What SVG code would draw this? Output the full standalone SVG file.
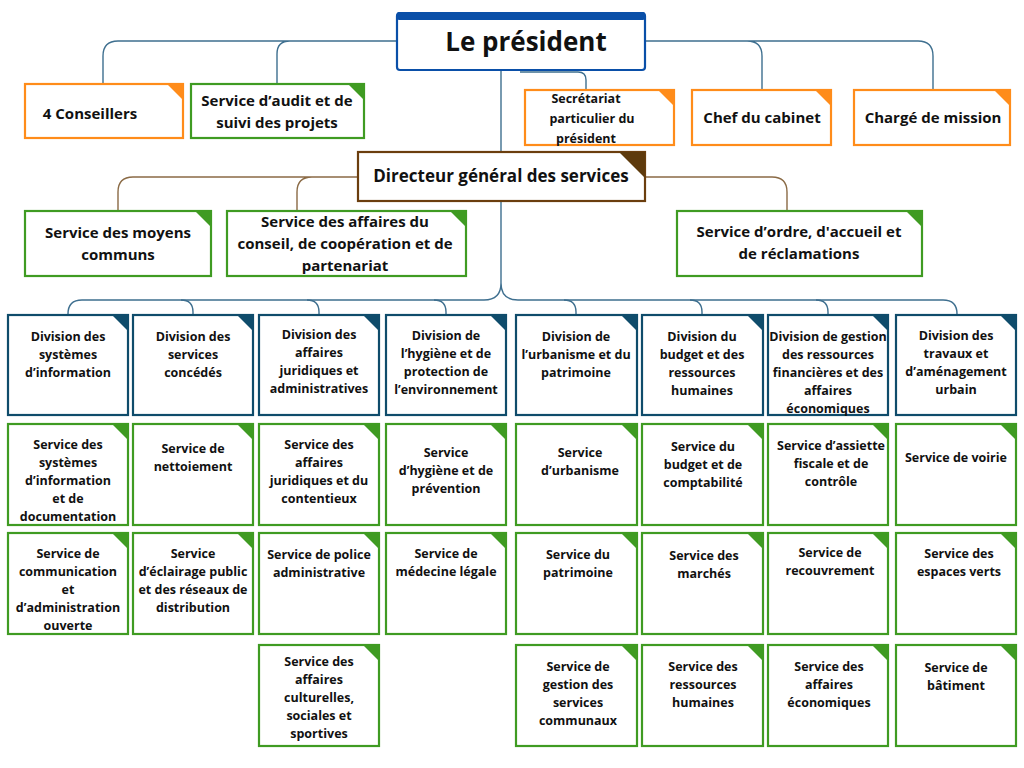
<svg xmlns="http://www.w3.org/2000/svg" width="1024" height="768" viewBox="0 0 1024 768">
<style>
text{font-family:"Open Sans","Liberation Sans",sans-serif;font-weight:bold;fill:#111;text-anchor:middle}
.t{font-size:12.5px}
.m{font-size:15px}
.c{fill:none;stroke:#3e6f8f;stroke-width:1.4}
.b{fill:none;stroke:#8a6a45;stroke-width:1.4}
.o{fill:#fff;stroke:#ff8c1a;stroke-width:2.2}
.g{fill:#fff;stroke:#3f9b22;stroke-width:2.2}
.d{fill:#fff;stroke:#0f4c6b;stroke-width:2.2}
.fo{fill:#ff8c1a}.fg{fill:#3f9b22}.fd{fill:#0f4c6b}.fb{fill:#5e3a0c}
</style>
<rect width="1024" height="768" fill="#fff"/>
<g id="connectors">
<path class="c" d="M397,41 H118 Q103,41 103,56 V84 M290,41 Q277,41 277,54 V84"/>
<path class="c" d="M645,41 H918 Q933,41 933,56 V90 M747,41 Q762,41 762,56 V90"/>
<path class="c" d="M520,72 H578 Q586,72 586,80 V90"/>
<path class="c" d="M501,70 V152"/>
<path class="c" d="M501,201 V283 Q501,300 484,300 H82 Q68,300 68,314 M501,283 Q501,300 518,300 H943 Q957,300 957,314"/>
<path class="c" d="M181,300 Q193,300 193,312 V315 M307,300 Q319,300 319,312 V315 M434,300 Q446,300 446,312 V315 M564,300 Q576,300 576,312 V315 M690,300 Q702,300 702,312 V315 M816,300 Q828,300 828,312 V315"/>
<path class="b" d="M358,177 H133 Q118,177 118,192 V211 M312,177 Q297,177 297,192 V211 M645,177 H772 Q787,177 787,192 V211"/>
</g>
<g id="president">
<rect x="397" y="13" width="248" height="57" rx="3" fill="#fff" stroke="#0a4fa8" stroke-width="2.2"/>
<rect x="397" y="12" width="248" height="8" rx="2" fill="#0a4fa8"/>
<text x="526" y="51" style="font-size:26px">Le président</text>
</g>
<g id="conseillers"><rect class="o" x="25" y="84" width="158" height="54"/><polygon class="fo" points="167,84 183,84 183,100"/><text class="m" x="90" y="119">4 Conseillers</text></g>
<g id="audit"><rect class="g" x="191" y="84" width="173" height="54"/><polygon class="fg" points="348,84 364,84 364,100"/><text class="m" x="277" y="106">Service d’audit et de</text><text class="m" x="277" y="128">suivi des projets</text></g>
<g id="secretariat"><rect class="o" x="525" y="90" width="149" height="55"/><polygon class="fo" points="658,90 674,90 674,106"/><text class="t" x="586" y="103">Secrétariat</text><text class="t" x="592" y="123">particulier du</text><text class="t" x="586" y="143">président</text></g>
<g id="chef"><rect class="o" x="692" y="90" width="139" height="55"/><polygon class="fo" points="815,90 831,90 831,106"/><text class="m" x="762" y="123">Chef du cabinet</text></g>
<g id="charge"><rect class="o" x="854" y="90" width="156" height="55"/><polygon class="fo" points="994,90 1010,90 1010,106"/><text class="m" x="933" y="123">Chargé de mission</text></g>
<g id="dg"><rect x="358" y="152" width="287" height="49" fill="#fff" stroke="#6b3e0e" stroke-width="2.2"/><polygon class="fb" points="619,152 645,152 645,178"/><text x="501" y="182" style="font-size:17px">Directeur général des services</text></g>
<g id="moyens"><rect class="g" x="25" y="211" width="186" height="65"/><polygon class="fg" points="195,211 211,211 211,227"/><text class="m" x="118" y="238">Service des moyens</text><text class="m" x="118" y="260">communs</text></g>
<g id="conseil"><rect class="g" x="227" y="211" width="239" height="65"/><polygon class="fg" points="450,211 466,211 466,227"/><text class="m" x="345" y="227">Service des affaires du</text><text class="m" x="345" y="249">conseil, de coopération et de</text><text class="m" x="345" y="271">partenariat</text></g>
<g id="ordre"><rect class="g" x="677" y="211" width="245" height="65"/><polygon class="fg" points="906,211 922,211 922,227"/><text class="m" x="799" y="237">Service d’ordre, d'accueil et</text><text class="m" x="799" y="259">de réclamations</text></g>

<g id="div1"><rect class="d" x="8" y="315" width="120" height="100"/><polygon class="fd" points="112,315 128,315 128,331"/><text class="t" x="68" y="341">Division des</text><text class="t" x="68" y="359">systèmes</text><text class="t" x="68" y="377">d’information</text></g>
<g id="div2"><rect class="d" x="133" y="315" width="120" height="100"/><polygon class="fd" points="237,315 253,315 253,331"/><text class="t" x="193" y="341">Division des</text><text class="t" x="193" y="359">services</text><text class="t" x="193" y="377">concédés</text></g>
<g id="div3"><rect class="d" x="259" y="315" width="120" height="100"/><polygon class="fd" points="363,315 379,315 379,331"/><text class="t" x="319" y="339">Division des</text><text class="t" x="319" y="357">affaires</text><text class="t" x="319" y="375">juridiques et</text><text class="t" x="319" y="393">administratives</text></g>
<g id="div4"><rect class="d" x="386" y="315" width="120" height="100"/><polygon class="fd" points="490,315 506,315 506,331"/><text class="t" x="446" y="340">Division de</text><text class="t" x="446" y="358">l’hygiène et de</text><text class="t" x="446" y="376">protection de</text><text class="t" x="446" y="394">l’environnement</text></g>
<g id="div5"><rect class="d" x="516" y="315" width="121" height="100"/><polygon class="fd" points="621,315 637,315 637,331"/><text class="t" x="576" y="341">Division de</text><text class="t" x="576" y="359">l’urbanisme et du</text><text class="t" x="576" y="377">patrimoine</text></g>
<g id="div6"><rect class="d" x="642" y="315" width="121" height="100"/><polygon class="fd" points="747,315 763,315 763,331"/><text class="t" x="702" y="341">Division du</text><text class="t" x="702" y="359">budget et des</text><text class="t" x="702" y="377">ressources</text><text class="t" x="702" y="395">humaines</text></g>
<g id="div7"><rect class="d" x="768" y="315" width="120" height="100"/><polygon class="fd" points="872,315 888,315 888,331"/><text class="t" x="828" y="341">Division de gestion</text><text class="t" x="828" y="359">des ressources</text><text class="t" x="828" y="377">financières et des</text><text class="t" x="828" y="395">affaires</text><text class="t" x="828" y="413">économiques</text></g>
<g id="div8"><rect class="d" x="896" y="315" width="120" height="100"/><polygon class="fd" points="1000,315 1016,315 1016,331"/><text class="t" x="956" y="340">Division des</text><text class="t" x="956" y="358">travaux et</text><text class="t" x="956" y="376">d’aménagement</text><text class="t" x="956" y="394">urbain</text></g>

<g id="s1a"><rect class="g" x="8" y="424" width="120" height="101"/><polygon class="fg" points="112,424 128,424 128,440"/><text class="t" x="68" y="449">Service des</text><text class="t" x="68" y="467">systèmes</text><text class="t" x="68" y="485">d’information</text><text class="t" x="68" y="503">et de</text><text class="t" x="68" y="521">documentation</text></g>
<g id="s1b"><rect class="g" x="8" y="533" width="120" height="101"/><polygon class="fg" points="112,533 128,533 128,549"/><text class="t" x="68" y="558">Service de</text><text class="t" x="68" y="576">communication</text><text class="t" x="68" y="594">et</text><text class="t" x="68" y="612">d’administration</text><text class="t" x="68" y="630">ouverte</text></g>
<g id="s2a"><rect class="g" x="133" y="424" width="120" height="101"/><polygon class="fg" points="237,424 253,424 253,440"/><text class="t" x="193" y="453">Service de</text><text class="t" x="193" y="471">nettoiement</text></g>
<g id="s2b"><rect class="g" x="133" y="533" width="120" height="101"/><polygon class="fg" points="237,533 253,533 253,549"/><text class="t" x="193" y="558">Service</text><text class="t" x="193" y="576">d’éclairage public</text><text class="t" x="193" y="594">et des réseaux de</text><text class="t" x="193" y="612">distribution</text></g>
<g id="s3a"><rect class="g" x="259" y="424" width="120" height="101"/><polygon class="fg" points="363,424 379,424 379,440"/><text class="t" x="319" y="449">Service des</text><text class="t" x="319" y="467">affaires</text><text class="t" x="319" y="485">juridiques et du</text><text class="t" x="319" y="503">contentieux</text></g>
<g id="s3b"><rect class="g" x="259" y="533" width="120" height="101"/><polygon class="fg" points="363,533 379,533 379,549"/><text class="t" x="319" y="559">Service de police</text><text class="t" x="319" y="577">administrative</text></g>
<g id="s3c"><rect class="g" x="259" y="645" width="120" height="101"/><polygon class="fg" points="363,645 379,645 379,661"/><text class="t" x="319" y="666">Service des</text><text class="t" x="319" y="684">affaires</text><text class="t" x="319" y="702">culturelles,</text><text class="t" x="319" y="720">sociales et</text><text class="t" x="319" y="738">sportives</text></g>
<g id="s4a"><rect class="g" x="386" y="424" width="120" height="101"/><polygon class="fg" points="490,424 506,424 506,440"/><text class="t" x="446" y="457">Service</text><text class="t" x="446" y="475">d’hygiène et de</text><text class="t" x="446" y="493">prévention</text></g>
<g id="s4b"><rect class="g" x="386" y="533" width="120" height="101"/><polygon class="fg" points="490,533 506,533 506,549"/><text class="t" x="446" y="558">Service de</text><text class="t" x="446" y="576">médecine légale</text></g>
<g id="s5a"><rect class="g" x="516" y="424" width="121" height="101"/><polygon class="fg" points="621,424 637,424 637,440"/><text class="t" x="580" y="457">Service</text><text class="t" x="580" y="475">d’urbanisme</text></g>
<g id="s5b"><rect class="g" x="516" y="533" width="121" height="101"/><polygon class="fg" points="621,533 637,533 637,549"/><text class="t" x="578" y="559">Service du</text><text class="t" x="578" y="577">patrimoine</text></g>
<g id="s5c"><rect class="g" x="516" y="645" width="121" height="101"/><polygon class="fg" points="621,645 637,645 637,661"/><text class="t" x="578" y="671">Service de</text><text class="t" x="578" y="689">gestion des</text><text class="t" x="578" y="707">services</text><text class="t" x="578" y="725">communaux</text></g>
<g id="s6a"><rect class="g" x="642" y="424" width="121" height="101"/><polygon class="fg" points="747,424 763,424 763,440"/><text class="t" x="703" y="451">Service du</text><text class="t" x="703" y="469">budget et de</text><text class="t" x="703" y="487">comptabilité</text></g>
<g id="s6b"><rect class="g" x="642" y="533" width="121" height="101"/><polygon class="fg" points="747,533 763,533 763,549"/><text class="t" x="704" y="560">Service des</text><text class="t" x="704" y="578">marchés</text></g>
<g id="s6c"><rect class="g" x="642" y="645" width="121" height="101"/><polygon class="fg" points="747,645 763,645 763,661"/><text class="t" x="703" y="671">Service des</text><text class="t" x="703" y="689">ressources</text><text class="t" x="703" y="707">humaines</text></g>
<g id="s7a"><rect class="g" x="768" y="424" width="120" height="101"/><polygon class="fg" points="872,424 888,424 888,440"/><text class="t" x="831" y="450">Service d’assiette</text><text class="t" x="831" y="468">fiscale et de</text><text class="t" x="831" y="486">contrôle</text></g>
<g id="s7b"><rect class="g" x="768" y="533" width="120" height="101"/><polygon class="fg" points="872,533 888,533 888,549"/><text class="t" x="830" y="557">Service de</text><text class="t" x="830" y="575">recouvrement</text></g>
<g id="s7c"><rect class="g" x="768" y="645" width="120" height="101"/><polygon class="fg" points="872,645 888,645 888,661"/><text class="t" x="829" y="671">Service des</text><text class="t" x="829" y="689">affaires</text><text class="t" x="829" y="707">économiques</text></g>
<g id="s8a"><rect class="g" x="896" y="424" width="120" height="101"/><polygon class="fg" points="1000,424 1016,424 1016,440"/><text class="t" x="956" y="462">Service de voirie</text></g>
<g id="s8b"><rect class="g" x="896" y="533" width="120" height="101"/><polygon class="fg" points="1000,533 1016,533 1016,549"/><text class="t" x="959" y="558">Service des</text><text class="t" x="959" y="576">espaces verts</text></g>
<g id="s8c"><rect class="g" x="896" y="645" width="120" height="101"/><polygon class="fg" points="1000,645 1016,645 1016,661"/><text class="t" x="956" y="672">Service de</text><text class="t" x="956" y="690">bâtiment</text></g>
</svg>
